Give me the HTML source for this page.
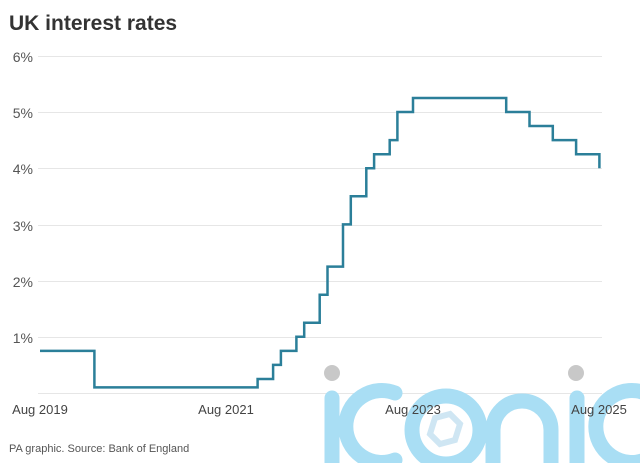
<!DOCTYPE html>
<html><head><meta charset="utf-8"><style>
body{margin:0;background:#fff;width:640px;height:463px;overflow:hidden}
svg{display:block}
text{font-family:"Liberation Sans",Arial,sans-serif}
</style></head><body>
<svg width="640" height="463" viewBox="0 0 640 463">
<text x="9" y="30" font-size="21" font-weight="bold" fill="#333">UK interest rates</text>
<g stroke="#e6e6e6" stroke-width="1">
<line x1="38" x2="602" y1="56.5" y2="56.5"/>
<line x1="38" x2="602" y1="112.5" y2="112.5"/>
<line x1="38" x2="602" y1="168.5" y2="168.5"/>
<line x1="38" x2="602" y1="225.5" y2="225.5"/>
<line x1="38" x2="602" y1="281.5" y2="281.5"/>
<line x1="38" x2="602" y1="337.5" y2="337.5"/>
<line x1="38" x2="602" y1="393.5" y2="393.5"/>
</g>
<g font-size="14" fill="#555" text-anchor="end">
<text x="33" y="62">6%</text>
<text x="33" y="118">5%</text>
<text x="33" y="174">4%</text>
<text x="33" y="231">3%</text>
<text x="33" y="287">2%</text>
<text x="33" y="343">1%</text>
</g>
<g fill="#a9def4">
<circle cx="332" cy="373" r="8" fill="#c8c8c8"/>
<circle cx="576" cy="373" r="8" fill="#c8c8c8"/>
</g>
<g stroke="#a9def4" stroke-width="15" fill="none" stroke-linecap="round">
<line x1="332" y1="398" x2="332" y2="470"/>
<path d="M395 393 A36 36 0 1 0 395 460"/>
<circle cx="446" cy="430" r="34"/>
<path d="M493 470 V430 A29 29 0 0 1 551 430 V470"/>
<line x1="577" y1="398" x2="577" y2="470"/>
<path d="M645 393 A36 36 0 1 0 645 460"/>
</g>
<polygon points="435,418 450,414 460,424 455,440 440,444 430,434" fill="none" stroke="#cfe6f3" stroke-width="6"/>
<g font-size="13" fill="#444" text-anchor="middle">
<text x="40" y="414">Aug 2019</text>
<text x="226" y="414">Aug 2021</text>
<text x="413" y="414">Aug 2023</text>
<text x="599" y="414">Aug 2025</text>
</g>
<text x="9" y="452" font-size="11" fill="#555">PA graphic. Source: Bank of England</text>
<path fill="none" stroke="#2b7f99" stroke-width="2.5" d="M40 350.9 H94.4 V387.4 H257.6 V379 H273.1 V364.9 H280.9 V350.9 H296.4 V336.8 H304.2 V322.8 H319.7 V294.7 H327.5 V266.6 H343 V224.4 H350.8 V196.3 H366.3 V168.2 H374.1 V154.2 H389.7 V140.1 H397.4 V112 H413 V98 H506.2 V112 H529.5 V126 H552.8 V140.1 H576.1 V154.2 H599.4 V168.2"/>
</svg>
</body></html>
